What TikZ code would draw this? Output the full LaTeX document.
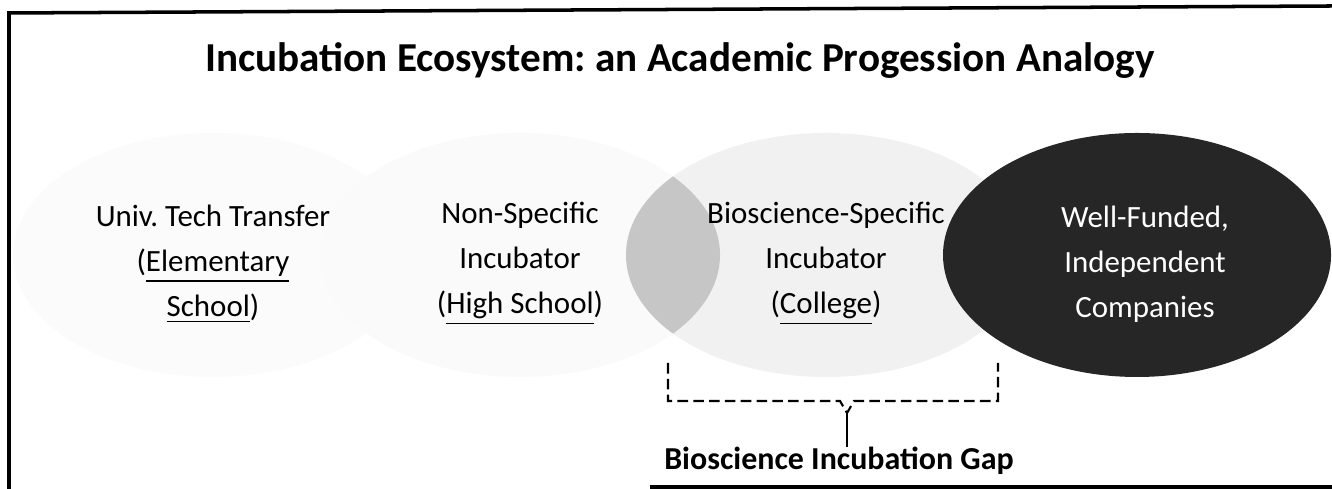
\documentclass[tikz,border=0pt]{standalone}
\usepackage{fontspec}
\setmainfont{Carlito}
\usetikzlibrary{shapes.geometric}
\frenchspacing

\begin{document}
\begin{tikzpicture}[every node/.style={inner sep=0pt}, blob/.style={ellipse, minimum width=4cm, minimum height=2.44cm}, txt/.style={align=center, font=\fontsize{8.8}{12.8}\selectfont}]
	\useasboundingbox (0, 0) rectangle (13.32, 4.89);
	\draw[line width=1pt] (0.09, 0) -- (0.09, 4.76) -- (13.32, 4.83);
	\draw[line width=1pt] (6.5, 0.02) -- (13.32, 0.02);
	
	\node[font=\fontsize{11.7}{13}\selectfont\bfseries, anchor=base] (t) at (6.80, 4.17) {Incubation Ecosystem: an Academic Progession Analogy};
	
	\node[blob, fill=gray!3] (a) at (2.13, 2.34) {};
	\node[blob, fill=gray!4] (b) at (5.20, 2.34) {};
	\node[blob, fill=gray!11] (c) at (8.26, 2.34) {};
	\begin{scope}
		\clip (5.20, 2.34) ellipse [x radius=2, y radius=1.22];
		\fill[gray!45] (8.26, 2.34) ellipse [x radius=2, y radius=1.22];
	\end{scope}
	\node[blob, minimum width=3.88cm, fill=black!85] (d) at (11.37, 2.34) {};
	
	\node[txt] (a1) at (2.13, 2.25) {Univ. Tech Transfer\\(\underline{Elementary}\\\underline{School})};
	\node[txt] (b1) at (5.20, 2.25) {Non-Specific\\Incubator\\(\underline{High School})};
	\node[txt] (c1) at (8.26, 2.25) {Bioscience-Specific\\Incubator\\(\underline{College})};
	\node[txt, text=white] (d1) at (11.45, 2.25) {Well-Funded,\\Independent\\Companies};
	
	\node[font=\fontsize{9.1}{11}\selectfont\bfseries, anchor=base] (g) at (8.39, 0.19) {Bioscience Incubation Gap};
	\coordinate (l) at (6.68, 1.26);
	\coordinate (r) at (9.98, 1.26);
	\coordinate (v) at (8.47, 0.76);
	\draw[dash pattern=on 3pt off 1.5pt, line width=0.6pt] (l) |- (8.40, 0.88) -- (v) -- (8.54, 0.88) -| (r);
	\draw[line width=0.6pt] (v) -- (v |- g.north);
\end{tikzpicture}
\end{document}
